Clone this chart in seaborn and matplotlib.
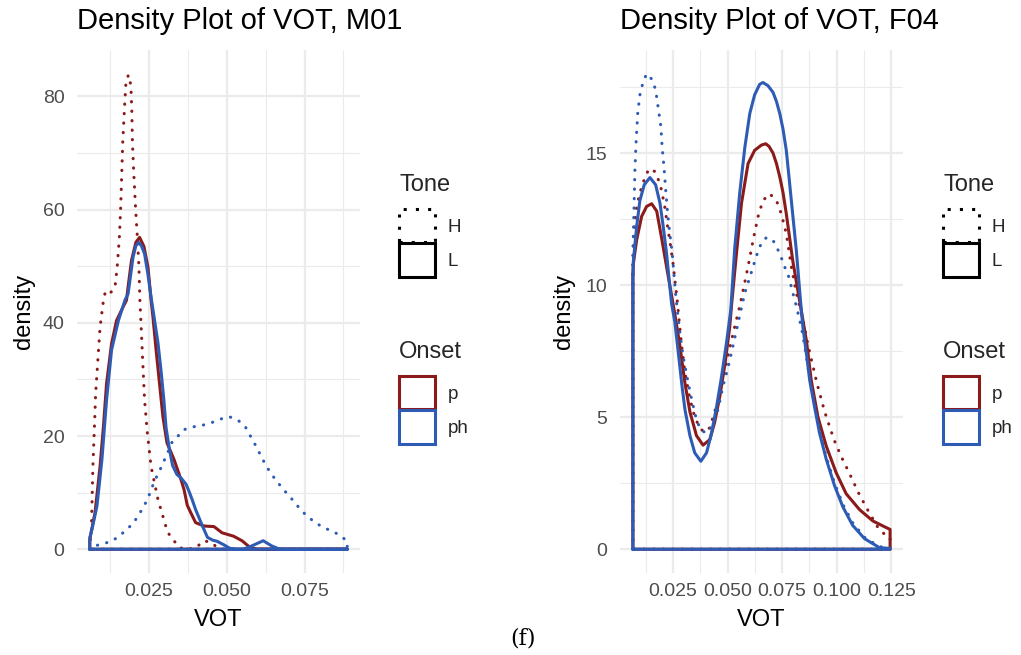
import matplotlib
matplotlib.use("Agg")
import matplotlib.pyplot as plt
import seaborn as sns
from matplotlib.patches import Patch

# ---------------- data ----------------
# Panel M01
m01_p_H_x = [0.0060, 0.0065, 0.0070, 0.0075, 0.0079, 0.0086, 0.0093, 0.0104, 0.0111, 0.0128, 0.0141,
             0.0148, 0.0155, 0.0159, 0.0163, 0.0166, 0.0171, 0.0176, 0.0184, 0.0192, 0.0195, 0.0197,
             0.0201, 0.0207, 0.0213, 0.0218, 0.0221, 0.0226, 0.0231, 0.0236, 0.0245, 0.0257, 0.0279,
             0.0310, 0.0347, 0.0369, 0.0400, 0.0426, 0.0451, 0.0473, 0.0496, 0.0887]
m01_p_H_y = [1.0, 3.0, 14.6, 21.6, 27.6, 33.4, 39.2, 44.0, 45.7, 45.4, 46.3,
             49.8, 55.0, 60.0, 66.8, 72.0, 77.4, 82.3, 83.8, 82.0, 77.4, 72.0,
             66.8, 60.4, 55.0, 49.8, 44.0, 38.1, 32.2, 26.4, 20.5, 14.6, 8.8,
             3.0, 0.3, 0.0, 0.2, 1.5, 1.2, 0.1, 0.0, 0.0]

m01_p_L_x = [0.0060, 0.0061, 0.0077, 0.0093, 0.0104, 0.0114, 0.0130, 0.0146, 0.0167, 0.0178, 0.0183,
             0.0194, 0.0208, 0.0220, 0.0234, 0.0247, 0.0257, 0.0263, 0.0273, 0.0284, 0.0295, 0.0308,
             0.0331, 0.0353, 0.0363, 0.0373, 0.0384, 0.0400, 0.0427, 0.0459, 0.0485, 0.0522, 0.0549,
             0.0575, 0.0596, 0.0887]
m01_p_L_y = [1.5, 2.0, 6.5, 14.6, 21.7, 29.3, 36.3, 40.4, 42.8, 44.0, 46.3,
             51.0, 54.2, 55.1, 53.5, 49.8, 44.0, 41.0, 35.2, 29.3, 23.4, 18.8,
             15.8, 12.3, 10.5, 7.8, 6.5, 4.7, 4.1, 4.0, 2.9, 2.3, 1.5,
             0.3, 0.0, 0.0]

m01_ph_H_x = [0.0060, 0.0061, 0.0096, 0.0125, 0.0153, 0.0178, 0.0199, 0.0215, 0.0231, 0.0247, 0.0257,
              0.0270, 0.0284, 0.0295, 0.0310, 0.0323, 0.0342, 0.0361, 0.0390, 0.0422, 0.0453, 0.0480,
              0.0509, 0.0538, 0.0559, 0.0577, 0.0591, 0.0605, 0.0620, 0.0636, 0.0655, 0.0674, 0.0694,
              0.0715, 0.0734, 0.0755, 0.0782, 0.0808, 0.0838, 0.0863, 0.0887]
m01_ph_H_y = [0.2, 0.3, 0.9, 1.3, 2.2, 3.5, 4.5, 5.9, 7.3, 9.0, 10.5,
              12.3, 13.8, 15.2, 17.0, 18.8, 19.9, 21.1, 21.6, 21.9, 22.4, 23.0,
              23.4, 22.7, 21.7, 19.9, 18.5, 17.0, 15.4, 13.9, 12.4, 11.1, 9.8,
              8.5, 7.2, 6.0, 4.8, 3.9, 3.2, 2.5, 1.4]

m01_ph_L_x = [0.0060, 0.0067, 0.0083, 0.0099, 0.0114, 0.0130, 0.0152, 0.0173, 0.0183, 0.0199, 0.0208,
              0.0217, 0.0226, 0.0236, 0.0247, 0.0257, 0.0268, 0.0279, 0.0289, 0.0298, 0.0305, 0.0316,
              0.0326, 0.0340, 0.0353, 0.0369, 0.0379, 0.0390, 0.0400, 0.0422, 0.0438, 0.0455, 0.0469,
              0.0490, 0.0512, 0.0530, 0.0554, 0.0581, 0.0617, 0.0644, 0.0670, 0.0887]
m01_ph_L_y = [2.0, 3.5, 7.6, 15.8, 26.4, 35.2, 40.4, 44.0, 45.1, 51.6, 53.6,
              54.2, 53.6, 52.2, 48.5, 44.5, 40.5, 36.5, 31.5, 26.4, 21.5, 17.6,
              14.8, 13.2, 12.6, 11.5, 10.2, 8.6, 7.0, 4.1, 2.1, 1.6, 1.4,
              0.8, 0.1, 0.0, 0.0, 0.6, 1.5, 0.6, 0.0, 0.0]

# Panel F04
f04_p_H_x = [0.0067, 0.0069, 0.0084, 0.0099, 0.0119, 0.0140, 0.0168, 0.0183, 0.0198, 0.0213, 0.0226,
             0.0240, 0.0251, 0.0259, 0.0270, 0.0277, 0.0290, 0.0305, 0.0328, 0.0350, 0.0373, 0.0393,
             0.0419, 0.0441, 0.0465, 0.0488, 0.0515, 0.0541, 0.0556, 0.0594, 0.0617, 0.0640, 0.0662,
             0.0693, 0.0724, 0.0746, 0.0769, 0.0792, 0.0815, 0.0845, 0.0868, 0.0909, 0.0944, 0.0987,
             0.1022, 0.1058, 0.1099, 0.1142, 0.1187, 0.1218, 0.1244]
f04_p_H_y = [10.9, 11.7, 12.95, 13.5, 14.0, 14.4, 14.3, 14.0, 13.6, 12.95, 12.2,
             11.45, 10.8, 10.2, 9.4, 8.8, 7.7, 6.7, 5.7, 5.0, 4.6, 4.43,
             4.6, 5.2, 5.9, 6.8, 7.8, 8.7, 9.2, 10.7, 11.7, 12.6, 13.2,
             13.46, 13.2, 12.7, 11.95, 10.7, 9.7, 8.7, 7.74, 6.29, 5.22, 4.15,
             3.48, 2.87, 2.14, 1.48, 0.84, 0.57, 0.45]

f04_p_L_x = [0.0067, 0.0069, 0.0084, 0.0107, 0.0130, 0.0153, 0.0176, 0.0198, 0.0221, 0.0244, 0.0259,
             0.0282, 0.0305, 0.0328, 0.0358, 0.0388, 0.0419, 0.0441, 0.0465, 0.0488, 0.0510, 0.0518,
             0.0541, 0.0564, 0.0594, 0.0624, 0.0655, 0.0675, 0.0690, 0.0708, 0.0724, 0.0739, 0.0754,
             0.0769, 0.0799, 0.0830, 0.0861, 0.0883, 0.0914, 0.0952, 0.0997, 0.1043, 0.1104, 0.1165,
             0.1226, 0.1244]
f04_p_L_y = [10.3, 10.8, 11.7, 12.6, 12.98, 13.08, 12.8, 11.8, 10.7, 9.6, 8.9,
             7.7, 6.3, 5.2, 4.3, 3.94, 4.15, 4.8, 5.8, 7.0, 8.4, 9.2,
             11.2, 13.1, 14.6, 15.1, 15.3, 15.35, 15.25, 15.0, 14.6, 14.1, 13.5,
             12.7, 10.9, 9.4, 7.9, 6.4, 5.0, 3.9, 2.9, 2.1, 1.5, 1.07,
             0.82, 0.75]

f04_ph_H_x = [0.0067, 0.0069, 0.0073, 0.0076, 0.0081, 0.0089, 0.0099, 0.0114, 0.0130, 0.0153, 0.0171,
              0.0183, 0.0195, 0.0201, 0.0209, 0.0218, 0.0226, 0.0236, 0.0247, 0.0255, 0.0262, 0.0267,
              0.0282, 0.0297, 0.0320, 0.0335, 0.0358, 0.0378, 0.0404, 0.0429, 0.0457, 0.0480, 0.0503,
              0.0525, 0.0548, 0.0571, 0.0579, 0.0606, 0.0632, 0.0655, 0.0678, 0.0708, 0.0739, 0.0761,
              0.0781, 0.0799, 0.0815, 0.0838, 0.0853, 0.0868, 0.0883, 0.0898, 0.0921, 0.0952, 0.0990,
              0.1028, 0.1073, 0.1127, 0.1195, 0.1244]
f04_ph_H_y = [10.4, 11.95, 13.2, 14.3, 15.3, 16.5, 17.2, 17.7, 18.0, 17.8, 17.4,
              16.7, 16.0, 15.2, 14.5, 13.5, 12.7, 11.95, 11.2, 10.4, 9.7, 9.3,
              8.2, 7.3, 6.3, 5.7, 4.9, 4.5, 4.4, 4.65, 5.3, 6.2, 6.9,
              7.7, 8.55, 9.4, 9.7, 10.4, 11.1, 11.6, 11.8, 11.7, 11.2, 10.7,
              10.3, 9.7, 9.2, 8.4, 7.7, 6.9, 6.2, 5.5, 4.5, 3.5, 2.5,
              1.7, 1.0, 0.45, 0.1, 0.04]

f04_ph_L_x = [0.0067, 0.0069, 0.0084, 0.0099, 0.0119, 0.0145, 0.0171, 0.0191, 0.0206, 0.0221, 0.0233,
              0.0244, 0.0259, 0.0274, 0.0290, 0.0305, 0.0328, 0.0350, 0.0378, 0.0404, 0.0427, 0.0450,
              0.0472, 0.0495, 0.0515, 0.0533, 0.0556, 0.0579, 0.0602, 0.0624, 0.0647, 0.0662, 0.0685,
              0.0708, 0.0724, 0.0739, 0.0754, 0.0769, 0.0780, 0.0792, 0.0815, 0.0834, 0.0845, 0.0861,
              0.0876, 0.0898, 0.0921, 0.0952, 0.0990, 0.1028, 0.1073, 0.1127, 0.1195, 0.1244]
f04_ph_L_y = [10.3, 10.9, 12.2, 13.2, 13.8, 14.07, 13.8, 13.1, 12.2, 11.2, 10.2,
              9.3, 8.6, 7.5, 6.3, 5.3, 4.3, 3.65, 3.33, 3.65, 4.4, 5.4,
              6.5, 7.8, 9.06, 11.4, 13.5, 15.2, 16.5, 17.2, 17.6, 17.67, 17.55,
              17.3, 16.95, 16.5, 15.9, 15.1, 14.2, 13.2, 11.3, 9.4, 8.4, 7.4,
              6.4, 5.4, 4.4, 3.4, 2.4, 1.6, 0.9, 0.4, 0.06, 0.03]

onset_levels = ["p", "ph"]
tone_levels = ["H", "L"]
panel_titles = ["Density Plot of VOT, M01", "Density Plot of VOT, F04"]
m01_xticks = [0.025, 0.050, 0.075]
m01_yticks = [0, 20, 40, 60, 80]
f04_xticks = [0.025, 0.050, 0.075, 0.100, 0.125]
f04_yticks = [0, 5, 10, 15]
caption = "(f)"

# ---------------- styling ----------------
sns.set_theme(style="whitegrid")
plt.rcParams["font.family"] = ["Liberation Sans", "DejaVu Sans"]

RED = "#8B1A1A"
BLUE = "#2E5CB5"
GRID = "#EBEBEB"
LW = 2.2
DOT = (0, (0.1, 3.0))
KEY_DOT = (0, (1.0, 3.0))
colors = {"p": RED, "ph": BLUE}
styles = {"H": DOT, "L": "-"}

W, H = 1021, 655
fig = plt.figure(figsize=(W / 100, H / 100), dpi=100)
fig.patch.set_facecolor("white")


def px_axes(l, t, r, b):
    return fig.add_axes([l / W, 1 - b / H, (r - l) / W, (b - t) / H])


ax1 = px_axes(77, 50, 360, 573)
ax2 = px_axes(620, 50, 903, 573)


def outline(xs, ys):
    x0, x1 = xs[0], xs[-1]
    return [x0] + list(xs) + [x1, x0], [0.0] + list(ys) + [0.0, 0.0]


panels = [
    (ax1, [("p", "H", m01_p_H_x, m01_p_H_y), ("p", "L", m01_p_L_x, m01_p_L_y),
           ("ph", "H", m01_ph_H_x, m01_ph_H_y), ("ph", "L", m01_ph_L_x, m01_ph_L_y)]),
    (ax2, [("p", "H", f04_p_H_x, f04_p_H_y), ("p", "L", f04_p_L_x, f04_p_L_y),
           ("ph", "H", f04_ph_H_x, f04_ph_H_y), ("ph", "L", f04_ph_L_x, f04_ph_L_y)]),
]

for ax, curves in panels:
    for onset, tone, xs, ys in curves:
        px, py = outline(xs, ys)
        sns.lineplot(x=px, y=py, ax=ax, sort=False, estimator=None,
                     color=colors[onset], linewidth=LW, linestyle=styles[tone],
                     dash_capstyle="round", solid_joinstyle="round", zorder=3)


def style_axis(ax, title, xlim, ylim, xticks, xminor, yticks, yminor, ylab_x):
    ax.set_facecolor("white")
    ax.set_xlim(*xlim)
    ax.set_ylim(*ylim)
    ax.set_xticks(xticks)
    ax.set_xticklabels([f"{v:.3f}" for v in xticks])
    ax.set_xticks(xminor, minor=True)
    ax.set_yticks(yticks)
    ax.set_yticklabels([f"{v:g}" for v in yticks])
    ax.set_yticks(yminor, minor=True)
    ax.set_axisbelow(True)
    ax.grid(which="major", color=GRID, linewidth=1.6)
    ax.grid(which="minor", color=GRID, linewidth=0.8)
    for s in ax.spines.values():
        s.set_visible(False)
    ax.tick_params(which="both", length=0)
    ax.tick_params(axis="both", which="major", labelsize=14, labelcolor="#4D4D4D")
    ax.tick_params(axis="y", pad=9)
    ax.tick_params(axis="x", pad=7.2)
    ax.set_xlabel("VOT", fontsize=17, color="black")
    ax.set_ylabel("density", fontsize=17, color="black")
    ax.xaxis.set_label_coords(0.5, -0.068)
    ax.yaxis.set_label_coords(ylab_x, 0.5)
    ax.set_title(title, loc="left", fontsize=21, pad=15, color="black")


style_axis(ax1, panel_titles[0], (0.0019, 0.0928), (-4.2, 88.2), m01_xticks,
           [0.0125, 0.0375, 0.0625, 0.0875], m01_yticks, [10, 30, 50, 70], -0.148)
style_axis(ax2, panel_titles[1], (0.0008, 0.1303), (-0.9, 18.9), f04_xticks,
           [0.0125, 0.0375, 0.0625, 0.0875, 0.1125], f04_yticks, [2.5, 7.5, 12.5, 17.5], -0.159)


def add_legends(ax, x_px):
    tone_handles = [
        Patch(facecolor="none", edgecolor="black", linewidth=LW, linestyle=KEY_DOT),
        Patch(facecolor="none", edgecolor="black", linewidth=LW),
    ]
    onset_handles = [Patch(facecolor="none", edgecolor=colors[o], linewidth=LW) for o in onset_levels]
    common = dict(loc="upper left", bbox_transform=fig.transFigure, frameon=False,
                  borderpad=0, borderaxespad=0, handlelength=1.9, handleheight=2.35,
                  labelspacing=0.05, handletextpad=0.7, fontsize=13.5,
                  title_fontsize=17, alignment="left")
    leg1 = ax.legend(tone_handles, tone_levels, title="Tone",
                     bbox_to_anchor=(x_px / W, 1 - 174 / H), **common)
    try:
        leg1._legend_box.sep = 9.5
    except Exception:
        pass
    ax.add_artist(leg1)
    leg2 = ax.legend(onset_handles, onset_levels, title="Onset",
                     bbox_to_anchor=(x_px / W, 1 - 341 / H), **common)
    try:
        leg2._legend_box.sep = 9.5
    except Exception:
        pass


add_legends(ax1, 399)
add_legends(ax2, 943)

fig.text(523 / W, 1 - 638 / H, caption, ha="center", va="center", fontsize=16,
         family=["DejaVu Serif"], color="black")

fig.savefig("out.png", dpi=100, facecolor="white")
